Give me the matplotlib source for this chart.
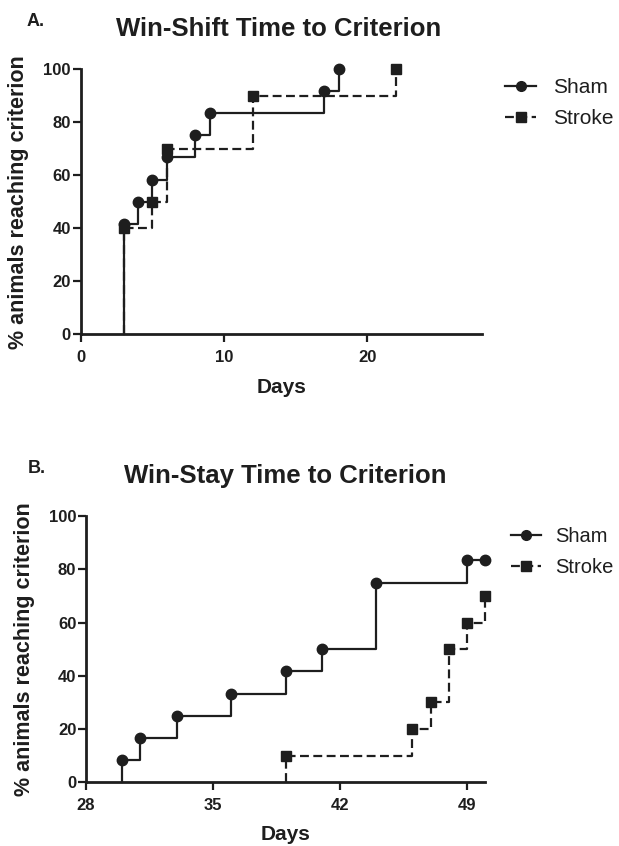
import matplotlib
matplotlib.use('Agg')
import matplotlib.pyplot as plt

plt.rcParams['font.family'] = ['Liberation Sans', 'DejaVu Sans']

# ---- data ----
# Panel A: win-shift
a_sham_days = [3, 4, 5, 6, 8, 9, 17, 18]
a_sham_pct = [41.7, 50, 58.3, 66.7, 75, 83.3, 91.7, 100]
a_stroke_days = [3, 5, 6, 12, 22]
a_stroke_pct = [40, 50, 70, 90, 100]

# Panel B: win-stay
b_sham_days = [30, 31, 33, 36, 39, 41, 44, 49, 50]
b_sham_pct = [8.3, 16.7, 25, 33.3, 41.7, 50, 75, 83.3, 83.3]
b_stroke_days = [39, 46, 47, 48, 49, 50]
b_stroke_pct = [10, 20, 30, 50, 60, 70]

y_ticks = [0, 20, 40, 60, 80, 100]
a_x_ticks = [0, 10, 20]
b_x_ticks = [28, 35, 42, 49]

INK = '#1e1e1e'
W, H = 619, 846


def km_curve(ax, days, pct, marker, ls, label):
    # step curve that rises from 0 at the first event
    xs = [days[0]] + days
    ys = [0] + pct
    ax.step(xs, ys, where='post', color=INK, lw=1.6, ls=ls, clip_on=False)
    ax.plot(days, pct, ls='none', marker=marker, ms=7.5 if marker == 'o' else 7,
            color=INK, clip_on=False, zorder=5)
    # handle for the legend
    return ax.plot([], [], color=INK, lw=1.6, ls=ls, marker=marker,
                   ms=7 if marker == 'o' else 6.5, label=label)[0]


def style_axes(ax, xlim, xticks, xlab_y):
    ax.set_xlim(*xlim)
    ax.set_ylim(0, 100)
    ax.set_xticks(xticks)
    ax.set_yticks(y_ticks)
    for s in ['top', 'right']:
        ax.spines[s].set_visible(False)
    for s in ['left', 'bottom']:
        ax.spines[s].set_linewidth(2)
        ax.spines[s].set_color(INK)
    ax.tick_params(axis='both', length=6, width=1.6, color=INK,
                   labelsize=12, labelcolor=INK)
    ax.tick_params(axis='x', pad=5)
    ax.tick_params(axis='y', pad=1)
    for lab in ax.get_xticklabels() + ax.get_yticklabels():
        lab.set_fontweight('bold')
    ax.set_xlabel('Days', fontsize=15, fontweight='bold', color=INK, va='center')
    ax.xaxis.set_label_coords(0.5, xlab_y)
    ax.set_ylabel('% animals reaching criterion', fontsize=15.5,
                  fontweight='bold', color=INK, va='center')
    ax.yaxis.set_label_coords(-0.155, 0.5)


def add_legend(handles, x_px, top_px, size=15, pad=0.8):
    fig.legend(handles=handles, loc='upper left',
               bbox_to_anchor=(x_px / W, 1 - top_px / H), frameon=False,
               fontsize=size, handlelength=1.5, handletextpad=pad,
               labelspacing=0.6, borderpad=0, borderaxespad=0,
               labelcolor=INK)


fig = plt.figure(figsize=(W / 100, H / 100), dpi=100)

# ---- panel A ----
axA = fig.add_axes([80.7 / W, 1 - 334.3 / H, 401.3 / W, 265.3 / H])
h1 = km_curve(axA, a_sham_days, a_sham_pct, 'o', '-', 'Sham')
h2 = km_curve(axA, a_stroke_days, a_stroke_pct, 's', (0, (4, 2)), 'Stroke')
style_axes(axA, (0, 28), a_x_ticks, -0.199)
add_legend([h1, h2], 505, 78)
fig.text(279 / W, 1 - 29 / H, 'Win-Shift Time to Criterion', ha='center',
         va='center', fontsize=18.5, fontweight='bold', color=INK)
fig.text(27 / W, 1 - 21 / H, 'A.', ha='left', va='center', fontsize=13,
         fontweight='bold', color=INK)

# ---- panel B ----
axB = fig.add_axes([86 / W, 1 - 782.3 / H, 399 / W, 266.3 / H])
h3 = km_curve(axB, b_sham_days, b_sham_pct, 'o', '-', 'Sham')
h4 = km_curve(axB, b_stroke_days, b_stroke_pct, 's', (0, (4, 2)), 'Stroke')
style_axes(axB, (28, 50), b_x_ticks, -0.195)
add_legend([h3, h4], 511, 527, size=14.5, pad=0.7)
fig.text(285 / W, 1 - 476 / H, 'Win-Stay Time to Criterion', ha='center',
         va='center', fontsize=18.5, fontweight='bold', color=INK)
fig.text(28 / W, 1 - 468.5 / H, 'B.', ha='left', va='center', fontsize=13,
         fontweight='bold', color=INK)

fig.savefig('out.png', dpi=100)
